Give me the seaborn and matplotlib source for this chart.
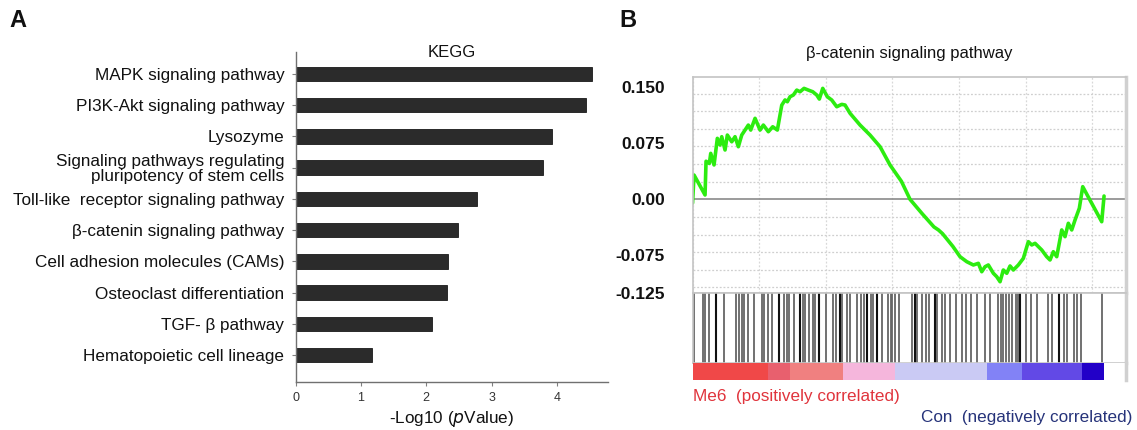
import numpy as np
import pandas as pd
import matplotlib
matplotlib.use("Agg")
import matplotlib.pyplot as plt
from matplotlib.ticker import MultipleLocator
import seaborn as sns

# ---- panel A: KEGG enrichment ----
pathways = [
    "MAPK signaling pathway",
    "PI3K-Akt signaling pathway",
    "Lysozyme",
    "Signaling pathways regulating\npluripotency of stem cells",
    "Toll-like  receptor signaling pathway",
    "\u03b2-catenin signaling pathway",
    "Cell adhesion molecules (CAMs)",
    "Osteoclast differentiation",
    "TGF- \u03b2 pathway",
    "Hematopoietic cell lineage",
]
neg_log_p = [4.53, 4.45, 3.93, 3.79, 2.78, 2.49, 2.34, 2.31, 2.09, 1.17]
x_ticks_a = [0, 1, 2, 3, 4]

# ---- panel B: GSEA running enrichment score ----
es_rank = [0, 45, 375, 405, 504, 546, 645, 744, 825, 876, 975, 1044, 1176,
           1275, 1374, 1476, 1575, 1674, 1746, 1876, 2026, 2125, 2275, 2406,
           2545, 2677, 2776, 2845, 2926, 3025, 3127, 3226, 3346, 3475, 3607,
           3727, 3805, 3907, 4045, 4177, 4327, 4477, 4576, 4727, 5027, 5327,
           5627, 5927, 6269, 6526, 6886, 7245, 7379, 7502, 7811, 8027, 8229,
           8427, 8577, 8679, 8778, 8877, 9027, 9129, 9228, 9327, 9429, 9528,
           9627, 9777, 9927, 10077, 10179, 10278, 10479, 10629, 10728, 10827,
           10929, 11079, 11178, 11277, 11379, 11478, 11607, 11709, 12279,
           12349]
es_value = [-0.005, 0.0325, 0.0058, 0.051, 0.048, 0.0615, 0.046, 0.0816,
            0.0727, 0.0838, 0.066, 0.086, 0.077, 0.0838, 0.0704, 0.086,
            0.0927, 0.0994, 0.0927, 0.1084, 0.0927, 0.0994, 0.0905, 0.0971,
            0.0927, 0.126, 0.133, 0.1306, 0.1373, 0.1396, 0.1462, 0.144,
            0.1485, 0.1462, 0.144, 0.1396, 0.1342, 0.1485, 0.1373, 0.1329,
            0.1239, 0.1271, 0.1262, 0.1151, 0.0994, 0.086, 0.0704, 0.0459,
            0.024, 0.0, -0.019, -0.037, -0.041, -0.046, -0.063, -0.0768,
            -0.0835, -0.0879, -0.0857, -0.0969, -0.0902, -0.0879, -0.099,
            -0.1036, -0.1103, -0.0946, -0.099, -0.0892, -0.0946, -0.0879,
            -0.079, -0.0567, -0.0611, -0.0589, -0.0678, -0.0768, -0.0812,
            -0.0701, -0.0768, -0.041, -0.05, -0.0321, -0.041, -0.0277, -0.012,
            0.0169, -0.030, 0.0044]
es_ticks = [0.150, 0.075, 0.00, -0.075, -0.125]
es_tick_labels = ["0.150", "0.075", "0.00", "-0.075", "-0.125"]

hits_gray = [30, 300, 380, 480, 950, 1300, 1400, 1480, 1550, 1650, 1850, 2080,
             2150, 2250, 2380, 2750, 2820, 2900, 3050, 3300, 3380, 3480, 3600,
             3680, 4000, 4200, 4300, 4500, 4650, 4720, 4950, 5050, 5150, 5350,
             5420, 5700, 5880, 5950, 6000, 6080, 6200, 6600, 6750, 6900, 7000,
             7100, 7350, 7500, 7580, 7720, 7900, 8080, 8220, 8350, 8550, 8780,
             8920, 9180, 9250, 9320, 9400, 9500, 9600, 9700, 9780, 10000,
             10150, 10350, 10680, 10780, 11150, 11250, 11450, 11550, 11650,
             12280]
hits_dark = [700, 2600, 3220, 3800, 4430, 5250, 5550, 6680, 7280, 9820, 11000]

rank_edges = [0, 2266, 2926, 4516, 6077, 8838, 9889, 11689, 12349]
rank_colors = ["#f04848", "#e8606e", "#f08080", "#f5b6dc", "#cacaf4",
               "#8282f6", "#6249e6", "#2200c8"]
n_rank = 13000

# ---- figure ----
sns.set_theme(style="white")
plt.rcParams["font.family"] = ["Liberation Sans", "DejaVu Sans"]

fig = plt.figure(figsize=(11.37, 4.30), dpi=100)

# panel A
ax = fig.add_axes([0.2599, 0.1116, 0.2748, 0.7674])
df = pd.DataFrame({"pathway": pathways, "score": neg_log_p})
sns.barplot(data=df, x="score", y="pathway", color="#2b2b2b", width=0.47,
            saturation=1, edgecolor="#1a1a1a", linewidth=0.6, ax=ax)
ax.set_xlim(0, 4.78)
ax.set_ylim(9.86, -0.7)
ax.set_xticks(x_ticks_a)
ax.set_xticklabels([str(t) for t in x_ticks_a], fontsize=9, color="#333333")
ax.tick_params(axis="y", labelsize=12.3, pad=5, length=3, color="#808080",
               left=True, width=0.8)
ax.tick_params(axis="x", pad=4, length=3, color="#808080", bottom=True,
               width=0.8)
for lab in ax.get_yticklabels():
    lab.set_color("#111111")
    lab.set_linespacing(0.95)
ax.set_ylabel("")
ax.set_xlabel("-Log10 ($\\it{p}$Value)", fontsize=12.3, labelpad=4,
              color="#111111")
for s in ["top", "right"]:
    ax.spines[s].set_visible(False)
for s in ["left", "bottom"]:
    ax.spines[s].set_color("#707070")
    ax.spines[s].set_linewidth(1.0)
ax.text(0.5, 1.0, "KEGG", transform=ax.transAxes, ha="center", va="center",
        fontsize=12, color="#111111")

# panel B: running ES
left_b, width_b = 0.6091, 0.3810
ax1 = fig.add_axes([left_b, 0.3193, width_b, 0.5009])
sns.lineplot(x=es_rank, y=es_value, color="#2cec10", linewidth=2.6, ax=ax1)
ax1.axhline(0, color="#8a8a8a", linewidth=1.2, zorder=1)
ax1.set_xlim(0, n_rank)
ax1.set_ylim(-0.125, 0.1633)
ax1.set_yticks(es_ticks)
ax1.set_yticklabels(es_tick_labels, fontsize=12.5, color="#111111",
                    fontweight="bold")
ax1.yaxis.set_minor_locator(MultipleLocator(0.0236))
ax1.xaxis.set_major_locator(MultipleLocator(2000))
ax1.set_xticklabels([])
ax1.tick_params(axis="y", which="major", length=0, pad=20)
ax1.tick_params(axis="x", length=0)
ax1.grid(True, which="minor", axis="y", color="#cfcfcf", linestyle=(0, (1.5, 1.5)),
         linewidth=0.9)
ax1.grid(True, which="major", axis="x", color="#d8d8d8", linestyle=(0, (1.5, 1.5)),
         linewidth=0.9)
ax1.set_title("\u03b2-catenin signaling pathway", fontsize=12, color="#111111",
              pad=14)

# hit markers
ax2 = fig.add_axes([left_b, 0.1558, width_b, 0.1635])
ax2.vlines(hits_gray, 0, 1, color="#666666", linewidth=1.3)
ax2.vlines(hits_dark, 0, 1, color="#111111", linewidth=1.5)
ax2.set_xlim(0, n_rank)
ax2.set_ylim(0, 1)
ax2.set_xticks([])
ax2.set_yticks([])

# ranked list colour bar
ax3 = fig.add_axes([left_b, 0.1163, width_b, 0.0395])
edges = np.array(rank_edges)
ax3.barh(0, width=np.diff(edges), left=edges[:-1], color=rank_colors,
         height=1, linewidth=0)
ax3.set_xlim(0, n_rank)
ax3.set_ylim(-0.5, 0.5)
ax3.set_xticks([])
ax3.set_yticks([])

for a in [ax1, ax2, ax3]:
    for s in a.spines.values():
        s.set_color("#c4c4c4")
        s.set_linewidth(1.2)
for s in ["top", "bottom", "left"]:
    ax3.spines[s].set_visible(False)
ax2.spines["bottom"].set_color("#c8c8c8")
for a in [ax1, ax2, ax3]:
    a.spines["right"].set_linewidth(2.5)
    a.spines["right"].set_color("#d0d0d0")

fig.text(left_b, 0.077, "Me6  (positively correlated)", fontsize=12.3,
         color="#e0343c", ha="left", va="center")
fig.text(0.996, 0.030, "Con  (negatively correlated)", fontsize=12.3,
         color="#26337a", ha="right", va="center")

fig.text(0.008, 0.952, "A", fontsize=17, fontweight="bold", ha="left",
         va="center", color="#111111")
fig.text(0.545, 0.952, "B", fontsize=17, fontweight="bold", ha="left",
         va="center", color="#111111")

fig.savefig("out.png", dpi=100)
